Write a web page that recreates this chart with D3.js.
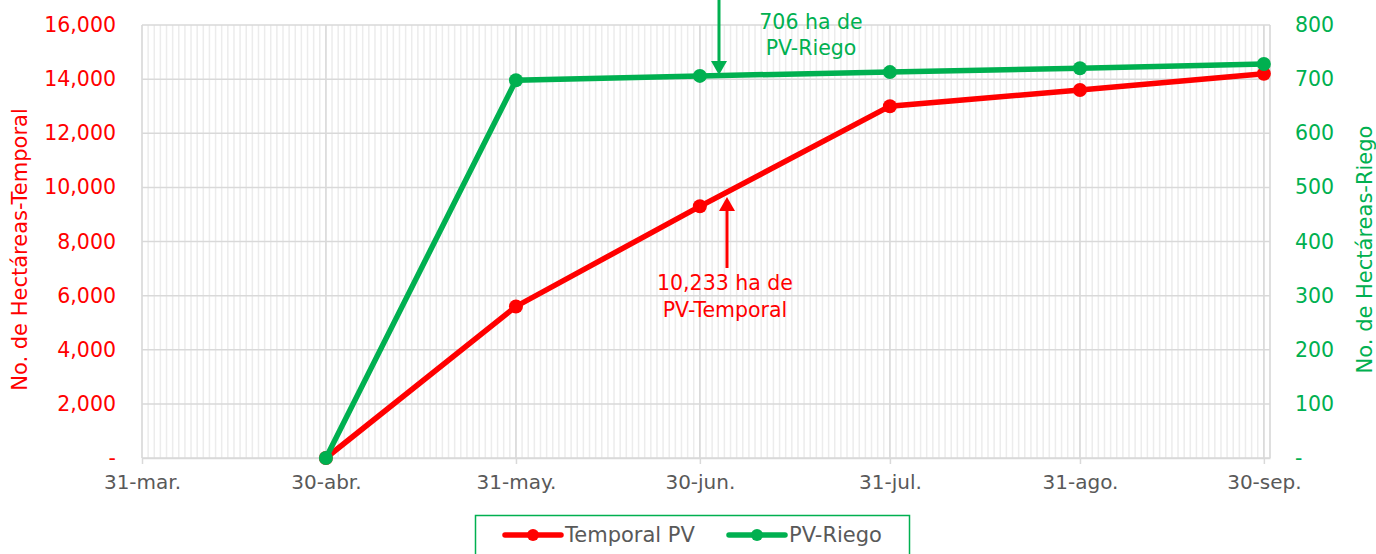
<!DOCTYPE html>
<html><head><meta charset="utf-8">
<script src="https://cdn.jsdelivr.net/npm/d3@7"></script>
<style>body{margin:0;background:#fff}svg{display:block}text{font-family:"DejaVu Sans",sans-serif}</style>
</head><body>
<svg id="c" width="1376" height="554"></svg>
<script>
const dates = ["2020-04-30","2020-05-31","2020-06-30","2020-07-31","2020-08-31","2020-09-30"];
const temporal = [0, 5600, 9300, 13000, 13600, 14200];
const riego = [0, 698, 706, 713, 720, 728];
const xTickDates = ["2020-03-31","2020-04-30","2020-05-31","2020-06-30","2020-07-31","2020-08-31","2020-09-30"];
const monthAbbr = ["ene.","feb.","mar.","abr.","may.","jun.","jul.","ago.","sep.","oct.","nov.","dic."];
const leftTicks = [0,2000,4000,6000,8000,10000,12000,14000,16000];
const rightTicks = [0,100,200,300,400,500,600,700,800];
const seriesNames = ["Temporal PV","PV-Riego"];

const parse = d3.utcParse("%Y-%m-%d");
const RED="#FF0000", GREEN="#00B050", GRAY="#595959";
const FONT="DejaVu Sans";
const svg = d3.select("#c");
const L=142, R=1270, T=25, B=458;
const x = d3.scaleUtc().domain([parse("2020-03-31"), parse("2020-10-01")]).range([L,R]);
const yL = d3.scaleLinear().domain([0,16000]).range([B,T]);
const yR = d3.scaleLinear().domain([0,800]).range([B,T]);

// minor daily gridlines
const days = d3.utcDay.range(parse("2020-03-31"), parse("2020-10-02"));
svg.append("g").selectAll("line").data(days).join("line")
  .attr("x1",d=>x(d)).attr("x2",d=>x(d)).attr("y1",T).attr("y2",B)
  .attr("stroke","#ececec").attr("stroke-width",1.5);
// horizontal major
svg.append("g").selectAll("line").data(leftTicks).join("line")
  .attr("x1",L).attr("x2",R).attr("y1",d=>yL(d)).attr("y2",d=>yL(d))
  .attr("stroke","#d9d9d9").attr("stroke-width",1.5);
// vertical major
svg.append("g").selectAll("line").data(xTickDates.map(parse)).join("line")
  .attr("x1",d=>x(d)).attr("x2",d=>x(d)).attr("y1",T).attr("y2",B)
  .attr("stroke","#d9d9d9").attr("stroke-width",1.5);
svg.append("line").attr("x1",R).attr("x2",R).attr("y1",T).attr("y2",B).attr("stroke","#d9d9d9").attr("stroke-width",1.5);

// x axis
const fmt = d => `${d.getUTCDate()}-${monthAbbr[d.getUTCMonth()]}`;
const xAxis = d3.axisBottom(x).tickValues(xTickDates.map(parse)).tickFormat(fmt).tickSize(6).tickSizeOuter(0);
const gx = svg.append("g").attr("transform",`translate(0,${B})`).call(xAxis);
gx.select(".domain").attr("stroke","#d9d9d9").attr("stroke-width",1.5);
gx.selectAll(".tick line").attr("stroke","#d9d9d9").attr("stroke-width",1.5);
gx.selectAll(".tick text").attr("fill",GRAY).attr("font-size",20).attr("dy","1.1em").style("font-family",FONT);

// left axis
const gl = svg.append("g").attr("transform",`translate(${L-26},0)`)
  .call(d3.axisLeft(yL).tickValues(leftTicks).tickSize(0).tickFormat(d=>d===0?"-":d3.format(",")(d)));
gl.select(".domain").remove();
gl.selectAll(".tick text").attr("fill",RED).attr("font-size",20.5).attr("x",0).style("font-family",FONT);
// right axis
const gr = svg.append("g").attr("transform",`translate(${R+25},0)`)
  .call(d3.axisRight(yR).tickValues(rightTicks).tickSize(0).tickFormat(d=>d===0?"-":d));
gr.select(".domain").remove();
gr.selectAll(".tick text").attr("fill",GREEN).attr("font-size",20.5).attr("x",0).style("font-family",FONT);

// axis titles
svg.append("text").attr("transform",`translate(27,${(T+B)/2+8}) rotate(-90)`).attr("text-anchor","middle")
  .attr("fill",RED).attr("font-size",21).text("No. de Hectáreas-Temporal");
svg.append("text").attr("transform",`translate(1372,${(T+B)/2+8}) rotate(-90)`).attr("text-anchor","middle")
  .attr("fill",GREEN).attr("font-size",21).text("No. de Hectáreas-Riego");

// lines
const dts = dates.map(parse);
const lineL = d3.line().x((d,i)=>x(dts[i])).y(d=>yL(d));
const lineR = d3.line().x((d,i)=>x(dts[i])).y(d=>yR(d));
svg.append("path").attr("d",lineL(temporal)).attr("fill","none").attr("stroke",RED).attr("stroke-width",5.5);
svg.append("g").selectAll("circle").data(temporal).join("circle").attr("cx",(d,i)=>x(dts[i])).attr("cy",d=>yL(d)).attr("r",7).attr("fill",RED);
svg.append("path").attr("d",lineR(riego)).attr("fill","none").attr("stroke",GREEN).attr("stroke-width",5.5);
svg.append("g").selectAll("circle").data(riego).join("circle").attr("cx",(d,i)=>x(dts[i])).attr("cy",d=>yR(d)).attr("r",7).attr("fill",GREEN);

// annotations
function arrow(x0,y0,y1,color){
  const dir = y1>y0?1:-1;
  svg.append("line").attr("x1",x0).attr("x2",x0).attr("y1",y0).attr("y2",y1-dir*12).attr("stroke",color).attr("stroke-width",3);
  svg.append("path").attr("d",`M${x0-8},${y1-dir*14}L${x0+8},${y1-dir*14}L${x0},${y1}Z`).attr("fill",color);
}
arrow(719,0,75,GREEN);
arrow(727,268,197,RED);
const ga = svg.append("text").attr("fill",GREEN).attr("font-size",20.5).attr("text-anchor","middle");
ga.append("tspan").attr("x",811).attr("y",29).text("706 ha de");
ga.append("tspan").attr("x",811).attr("y",55).text("PV-Riego");
const ta = svg.append("text").attr("fill",RED).attr("font-size",20.5).attr("text-anchor","middle");
ta.append("tspan").attr("x",725).attr("y",290).text("10,233 ha de");
ta.append("tspan").attr("x",725).attr("y",317).text("PV-Temporal");

// legend
svg.append("rect").attr("x",475.5).attr("y",515.5).attr("width",434).attr("height",50).attr("fill","#fff").attr("stroke",GREEN).attr("stroke-width",1.5);
const leg = [{n:seriesNames[0],c:RED,x:505},{n:seriesNames[1],c:GREEN,x:729}];
leg.forEach(l=>{
  svg.append("line").attr("x1",l.x).attr("x2",l.x+56).attr("y1",535).attr("y2",535).attr("stroke",l.c).attr("stroke-width",5.5).attr("stroke-linecap","round");
  svg.append("circle").attr("cx",l.x+28).attr("cy",535).attr("r",6).attr("fill",l.c);
  svg.append("text").attr("x",l.x+60).attr("y",542).attr("fill",GRAY).attr("font-size",21).text(l.n);
});
</script>
</body></html>
